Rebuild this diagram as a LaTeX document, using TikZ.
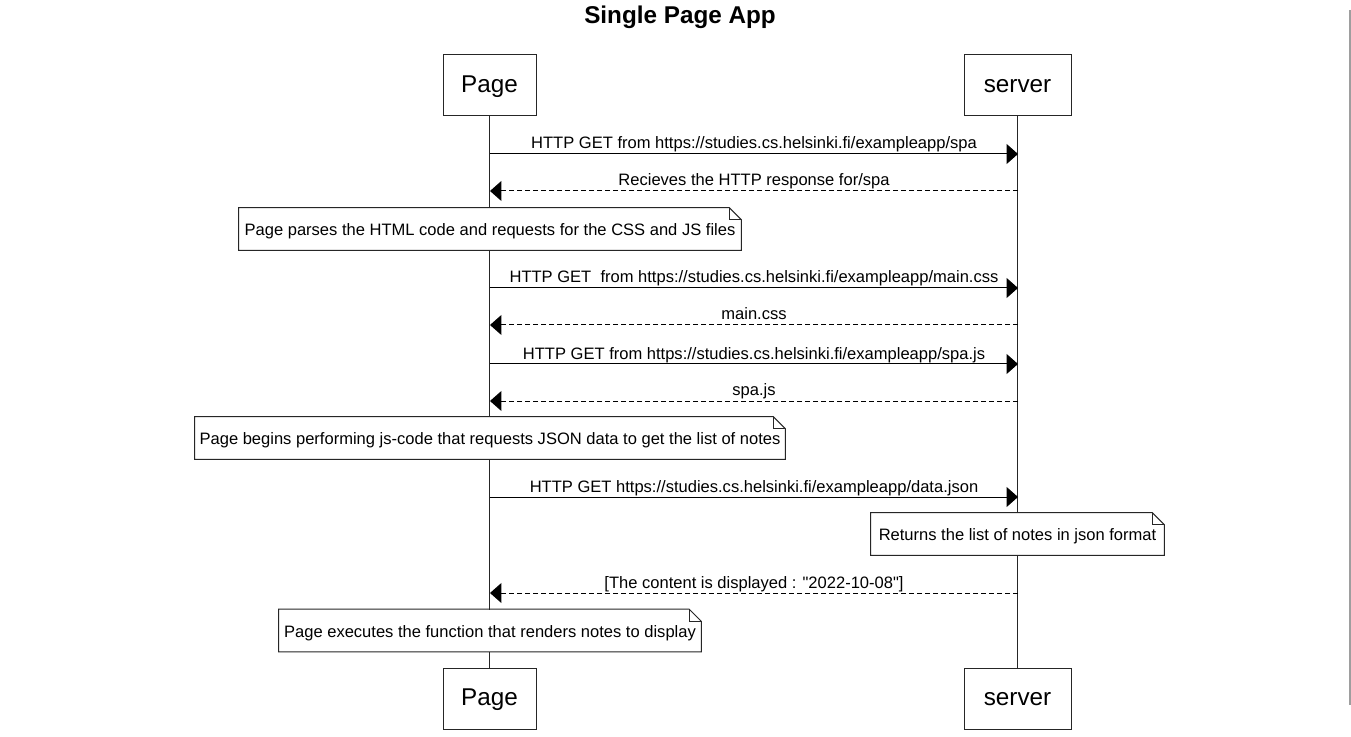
\documentclass[tikz,border=0pt]{standalone}
\usepackage{fontspec}
\setmainfont{Liberation Sans}[Ligatures=TeXOff]
\usetikzlibrary{arrows.meta,calc}
\begin{document}
\begin{tikzpicture}[x=0.75pt,y=-0.75pt,
  every node/.style={font=\fontsize{12.4pt}{14pt}\selectfont},
  actor/.style={draw=black!85, line width=0.75pt, fill=white, inner sep=0pt,
    minimum height=45.75pt, font=\fontsize{18.2pt}{20pt}\selectfont,
    text height=13.5pt, text depth=3.7pt},
  lifeline/.style={draw=black!85, line width=0.75pt},
  msg/.style={draw=black, line width=0.75pt, -{Triangle[length=8.6pt,width=15pt]}},
  reply/.style={msg, dash pattern=on 3.75pt off 2.25pt},
  lbl/.style={anchor=base, inner sep=0pt, yshift=3.75pt},
  notebox/.style={fill=white, inner sep=0pt, minimum height=31.5pt,
    text height=12pt, text depth=2pt},
  noteline/.style={draw=black!85, line width=0.75pt, line join=miter},
  scrollbar/.style={draw=black!38, line width=1.5pt}
]
\useasboundingbox (0,0) rectangle (1351,737);

% title
\node[font=\bfseries\fontsize{18.2pt}{20pt}\selectfont, anchor=base, inner sep=0pt]
  (title) at (680,23.5) {Single Page App};

% actors
\node[actor, minimum width=69.75pt] (pt) at (489.5,85.5) {Page};
\node[actor, minimum width=80.25pt] (st) at (1017.5,85.5) {server};
\node[actor, minimum width=69.75pt] (pb) at (489.5,698.5) {Page};
\node[actor, minimum width=80.25pt] (sb) at (1017.5,698.5) {server};

% lifelines
\draw[lifeline] (pt.south) -- (pb.north);
\draw[lifeline] (st.south) -- (sb.north);

% message end points
\coordinate (p1) at (490,154);  \coordinate (s1) at (1018,154);
\coordinate (p2) at (490,191);  \coordinate (s2) at (1018,191);
\coordinate (p3) at (490,288);  \coordinate (s3) at (1018,288);
\coordinate (p4) at (490,325);  \coordinate (s4) at (1018,325);
\coordinate (p5) at (490,364);  \coordinate (s5) at (1018,364);
\coordinate (p6) at (490,401);  \coordinate (s6) at (1018,401);
\coordinate (p7) at (490,497);  \coordinate (s7) at (1018,497);
\coordinate (p8) at (490,593);  \coordinate (s8) at (1018,593);

\draw[msg] (p1) -- node[lbl] (m1) {HTTP GET from https://studies.cs.helsinki.fi/exampleapp/spa} (s1);
\draw[reply] (s2) -- node[lbl] (m2) {Recieves the HTTP response for/spa} (p2);
\draw[msg] (p3) -- node[lbl] (m3) {HTTP GET\ \ from https://studies.cs.helsinki.fi/exampleapp/main.css} (s3);
\draw[reply] (s4) -- node[lbl] (m4) {main.css} (p4);
\draw[msg] (p5) -- node[lbl] (m5) {HTTP GET from https://studies.cs.helsinki.fi/exampleapp/spa.js} (s5);
\draw[reply] (s6) -- node[lbl] (m6) {spa.js} (p6);
\draw[msg] (p7) -- node[lbl] (m7) {HTTP GET https://studies.cs.helsinki.fi/exampleapp/data.json} (s7);
\draw[reply] (s8) -- node[lbl] (m8) {[The content is displayed : "2022-10-08"]} (p8);

% notes
\node[notebox, minimum width=376.5pt] (n1) at (490,229)
  {Page parses the HTML code and requests for the CSS and JS files};
\node[notebox, minimum width=442.5pt] (n2) at (490,438)
  {Page begins performing js-code that requests JSON data to get the list of notes};
\node[notebox, minimum width=219.75pt] (n3) at (1017.5,534)
  {Returns the list of notes in json format};
\node[notebox, minimum width=316.5pt] (n4) at (490,630.5)
  {Page executes the function that renders notes to display};

\foreach \n in {n1,n2,n3,n4}{
  \draw[noteline] (\n.south west) -- (\n.south east) -- ($(\n.north east)+(0,12)$)
    -- ($(\n.north east)+(-12,0)$) -- (\n.north west) -- cycle;
  \draw[noteline] ($(\n.north east)+(-12,0)$) -- ($(\n.north east)+(-12,12)$)
    -- ($(\n.north east)+(0,12)$);
}

% right edge bar
\coordinate (bar1) at (1350,10);
\coordinate (bar2) at (1350,705);
\draw[scrollbar] (bar1) -- (bar2);
\end{tikzpicture}
\end{document}
